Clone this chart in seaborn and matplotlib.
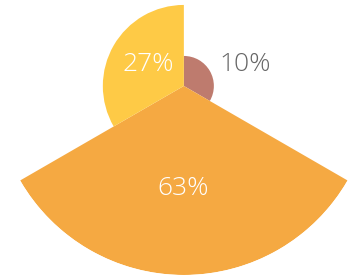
import numpy as np
import matplotlib
matplotlib.use("Agg")
import matplotlib.pyplot as plt
import seaborn as sns

# Chart data
labels = ["10%", "63%", "27%"]
values = [10, 63, 27]
colors = ["#BE7B6E", "#F5A942", "#FECA46"]
label_colors = ["#666666", "white", "white"]

# label placement (theta in degrees clockwise from top, r in data units)
label_theta = [70.6, 180.5, 301]
label_r = [21.6, 34.3, 13.8]

sns.set_style("white")
plt.rcParams['font.family'] = ['Open Sans', 'DejaVu Sans']

fig = plt.figure(figsize=(3.55, 2.77), dpi=100)
# polar axes placed so centre sits at (184, 86) px from top-left, radius 189 px
ax = fig.add_axes([-0.0146, 0.0072, 1.065, 1.365], projection="polar")
ax.set_theta_zero_location("N")
ax.set_theta_direction(-1)

n = len(values)
width = 2 * np.pi / n
theta = np.arange(n) * width + width / 2
ax.bar(theta, values, width=width, color=colors, edgecolor="none",
       linewidth=0, align="center")

for lab, t, r, c in zip(labels, label_theta, label_r, label_colors):
    ax.text(np.deg2rad(t), r, lab, ha="center", va="center", color=c,
            fontsize=19, fontweight="light")

ax.set_ylim(0, max(values))
ax.set_axis_off()

fig.savefig("out.png", dpi=100)
